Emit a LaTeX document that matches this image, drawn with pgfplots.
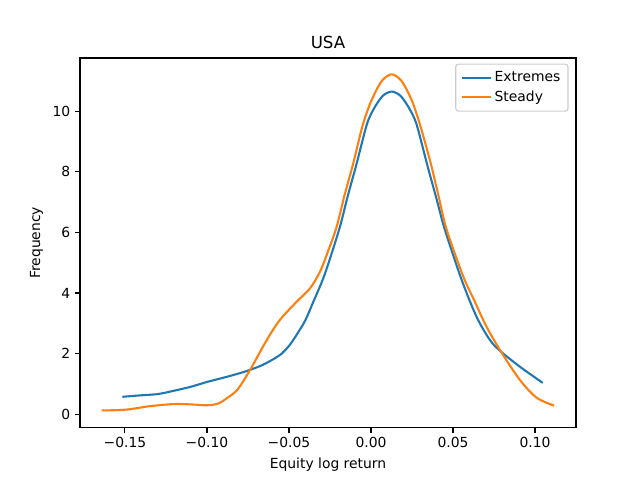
\documentclass[border=0pt]{standalone}
\usepackage{pgfplots}
\pgfplotsset{compat=1.18}
\usepackage{fontspec}
\setmainfont{DejaVu Sans}
\definecolor{tabblue}{HTML}{1F77B4}
\definecolor{taborange}{HTML}{FF7F0E}
\begin{document}
\begin{tikzpicture}
\path[use as bounding box] (0,0) rectangle (460.8pt,345.6pt);
\begin{axis}[
  at={(57.6pt,37.66pt)}, anchor=south west,
  scale only axis, width=357.12pt, height=266.2pt,
  xmin=-0.1774, xmax=0.125, ymin=-0.45, ymax=11.76,
  xtick={-0.15,-0.10,-0.05,0,0.05,0.10},
  xticklabels={−0.15,−0.10,−0.05,0.00,0.05,0.10},
  ytick={0,2,4,6,8,10},
  yticklabels={0,2,4,6,8,10},
  tick align=outside, tick pos=left,
  major tick length=3.5pt,
  every tick/.style={black, line width=0.8pt},
  axis line style={line width=0.8pt},
  tick label style={font=\fontsize{10}{12}\selectfont},
  /pgf/number format/assume math mode=true,
  title={USA}, title style={font=\fontsize{12}{14}\selectfont, yshift=-3pt},
  xlabel={Equity log return}, ylabel={Frequency},
  label style={font=\fontsize{10}{12}\selectfont},
  legend style={font=\fontsize{10}{12}\selectfont, draw=black!20, rounded corners=2pt, line width=0.8pt, inner sep=3.5pt, row sep=1pt, at={(0.985,0.985)}, anchor=north east},
  legend cell align=left,
  legend image code/.code={\draw[#1] (0pt,0pt) -- (21pt,0pt);},
]
\addplot[tabblue, line width=1.5pt, smooth] coordinates {
(-0.1516,0.57) (-0.140,0.62) (-0.130,0.66) (-0.1226,0.74) (-0.110,0.90) (-0.100,1.06)
(-0.090,1.20) (-0.080,1.35) (-0.0727,1.48) (-0.065,1.65) (-0.0555,1.95) (-0.050,2.25)
(-0.0453,2.62) (-0.040,3.10) (-0.0352,3.70) (-0.0291,4.48) (-0.0240,5.30) (-0.0189,6.19)
(-0.0140,7.23) (-0.0087,8.28) (-0.0026,9.55) (0.0014,10.05) (0.0070,10.50) (0.0126,10.65)
(0.0182,10.50) (0.0238,10.05) (0.0279,9.55) (0.0343,8.23) (0.0400,7.10) (0.0451,6.08)
(0.0553,4.43) (0.0644,3.21) (0.0726,2.44)
(0.0793,2.06) (0.0909,1.56) (0.1047,1.03)
};
\addlegendentry{Extremes}
\addplot[taborange, line width=1.5pt, smooth] coordinates {
(-0.1642,0.12) (-0.155,0.13) (-0.147,0.16) (-0.135,0.26) (-0.1205,0.33) (-0.110,0.32)
(-0.100,0.29) (-0.093,0.35) (-0.088,0.52) (-0.0815,0.80) (-0.0738,1.45) (-0.0636,2.44)
(-0.0555,3.11) (-0.0453,3.71) (-0.0372,4.15) (-0.0311,4.70) (-0.0260,5.40) (-0.0209,6.19)
(-0.0160,7.25) (-0.0108,8.28) (-0.0050,9.55) (0.0004,10.37) (0.0066,11.00) (0.0126,11.22)
(0.0186,11.00) (0.0248,10.37) (0.0299,9.55) (0.0362,8.33) (0.0412,7.20) (0.0462,6.08)
(0.0563,4.54) (0.0630,3.75) (0.0705,2.88)
(0.0793,2.06) (0.0909,1.12) (0.101,0.54) (0.1116,0.28)
};
\addlegendentry{Steady}
\end{axis}
\end{tikzpicture}
\end{document}
